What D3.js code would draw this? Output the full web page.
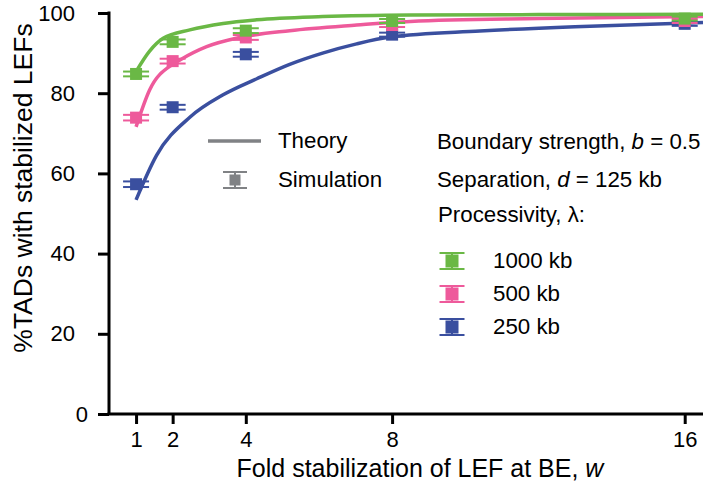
<!DOCTYPE html>
<html><head><meta charset="utf-8">
<script src="https://cdn.jsdelivr.net/npm/d3@7"></script>
<style>body{margin:0;background:#fff}svg{display:block}text{font-family:"Liberation Sans",Arial,sans-serif;fill:#000}</style>
</head><body><svg id="c" width="703" height="489"></svg>
<script>
// ---- data ----
const simW = [1, 2, 4, 8, 16];
const sim1000 = [84.8, 92.8, 95.6, 98.0, 98.6];
const sim500  = [73.9, 88.0, 93.9, 97.0, 98.0];
const sim250  = [57.3, 76.5, 89.7, 94.6, 97.3];
const simErr1000 = [0.6, 0.6, 0.6, 0.5, 0.5];
const simErr500  = [0.7, 0.6, 0.6, 0.5, 0.5];
const simErr250  = [0.7, 0.6, 0.6, 0.5, 0.5];

const theoW1000 = [1, 1.37, 1.74, 2.47, 3.38, 4.3, 6.1, 8.5, 12, 16.5];
const theo1000  = [85.4, 90.5, 93.7, 95.8, 97.4, 98.3, 99.1, 99.5, 99.6, 99.7];
const theoW500  = [1, 1.37, 2.0, 2.2, 2.93, 3.84, 5.2, 7.03, 8.5, 12, 16.5];
const theo500   = [71.6, 80.8, 87.2, 88.3, 91.6, 93.9, 95.6, 97.0, 97.9, 98.6, 99.1];
const theoW250  = [1, 1.56, 2.47, 3.38, 4.3, 5.2, 6.1, 7.03, 7.94, 10.4, 13, 16.5];
const theo250   = [53.4, 64.5, 74.0, 79.6, 83.6, 87.2, 90.0, 92.3, 94.0, 95.5, 96.6, 97.6];

const xTicks = [1, 2, 4, 8, 16];
const yTicks = [0, 20, 40, 60, 80, 100];
const seriesNames = ["1000 kb", "500 kb", "250 kb"];
const colors = ["#6ab845", "#ee5a9b", "#3a4f9f"];
const grey = "#808285";

// ---- chart ----
const svg = d3.select("#c");
const x = d3.scaleLinear().domain([0.26, 16.5]).range([109, 703]);
const y = d3.scaleLinear().domain([0, 100]).range([414, 13]);

const series = [
  {name: seriesNames[0], color: colors[0], tw: theoW1000, tv: theo1000, sv: sim1000, se: simErr1000},
  {name: seriesNames[1], color: colors[1], tw: theoW500, tv: theo500, sv: sim500, se: simErr500},
  {name: seriesNames[2], color: colors[2], tw: theoW250, tv: theo250, sv: sim250, se: simErr250}
];

// axes
const xAxis = svg.append("g").attr("transform", `translate(0,${y(0)})`)
  .call(d3.axisBottom(x).tickValues(xTicks).tickSize(10).tickSizeOuter(0).tickFormat(d3.format("d")));
const yAxis = svg.append("g").attr("transform", `translate(${x(0.26)},0)`)
  .call(d3.axisLeft(y).tickValues(yTicks).tickSize(11).tickSizeOuter(0));
[xAxis, yAxis].forEach(g => {
  g.select(".domain").attr("stroke", "#000").attr("stroke-width", 3);
  g.selectAll(".tick line").attr("stroke", "#000").attr("stroke-width", 3);
  g.selectAll(".tick text").attr("font-size", 22).attr("font-family", "Liberation Sans, Arial, sans-serif").attr("fill", "#000");
});
xAxis.select(".domain").attr("d", `M${x(0.26)-1.5},0H703`);
yAxis.select(".domain").attr("d", `M0,${y(0)}V${y(100)-1.5}`);
xAxis.selectAll(".tick text").attr("dy", "0.95em").attr("y", 12);
yAxis.selectAll(".tick text").attr("x", d => d === 0 ? -21 : -34);

// theory lines
const line = d3.line().x(d => x(d[0])).y(d => y(d[1])).curve(d3.curveMonotoneX);
series.slice().reverse().forEach(s => {
  svg.append("path").datum(s.tw.map((w, i) => [w, s.tv[i]]))
    .attr("d", line).attr("fill", "none").attr("stroke", s.color)
    .attr("stroke-width", 3.5).attr("stroke-linejoin", "round");
});

// simulation markers
function marker(g, cx, cy, up, down, color, sq, capW) {
  g.append("line").attr("x1", cx).attr("x2", cx).attr("y1", up).attr("y2", down)
    .attr("stroke", color).attr("stroke-width", 2);
  g.append("line").attr("x1", cx - capW/2).attr("x2", cx + capW/2).attr("y1", up).attr("y2", up)
    .attr("stroke", color).attr("stroke-width", 2);
  g.append("line").attr("x1", cx - capW/2).attr("x2", cx + capW/2).attr("y1", down).attr("y2", down)
    .attr("stroke", color).attr("stroke-width", 2);
  g.append("rect").attr("x", cx - sq/2).attr("y", cy - sq/2).attr("width", sq).attr("height", sq).attr("fill", color);
}
series.slice().reverse().forEach(s => {
  const g = svg.append("g");
  simW.forEach((w, i) => {
    marker(g, x(w), y(s.sv[i]), y(s.sv[i] + s.se[i]), y(s.sv[i] - s.se[i]), s.color, 12, 26);
  });
});

// legend: theory / simulation
const lg = svg.append("g").attr("font-size", 22.3);
lg.append("line").attr("x1", 208).attr("x2", 261).attr("y1", 141).attr("y2", 141)
  .attr("stroke", grey).attr("stroke-width", 3.5);
lg.append("text").attr("x", 278).attr("y", 148).text("Theory");
marker(lg, 235, 180, 172, 188, grey, 11, 24);
lg.append("text").attr("x", 278).attr("y", 187).text("Simulation");

// legend: parameters
const pg = svg.append("g").attr("font-size", 22.3);
const t1 = pg.append("text").attr("x", 437).attr("y", 149);
t1.append("tspan").text("Boundary strength, ");
t1.append("tspan").attr("font-style", "italic").text("b");
t1.append("tspan").text(" = 0.5");
const t2 = pg.append("text").attr("x", 437).attr("y", 187);
t2.append("tspan").text("Separation, ");
t2.append("tspan").attr("font-style", "italic").text("d");
t2.append("tspan").text(" = 125 kb");
pg.append("text").attr("x", 438).attr("y", 222).text("Processivity, λ:");
const legY = [261, 294, 327];
series.forEach((s, i) => {
  marker(pg, 452, legY[i], legY[i] - 8, legY[i] + 8, s.color, 13, 25);
  pg.append("text").attr("x", 493).attr("y", legY[i] + 7).text(s.name);
});

// axis titles
const xt = svg.append("text").attr("x", 420).attr("y", 477).attr("text-anchor", "middle").attr("font-size", 25);
xt.append("tspan").text("Fold stabilization of LEF at BE, ");
xt.append("tspan").attr("font-style", "italic").text("w");
svg.append("text").attr("transform", "translate(32,188) rotate(-90)").attr("text-anchor", "middle")
  .attr("font-size", 26.5).text("%TADs with stabilized LEFs");
</script></body></html>
